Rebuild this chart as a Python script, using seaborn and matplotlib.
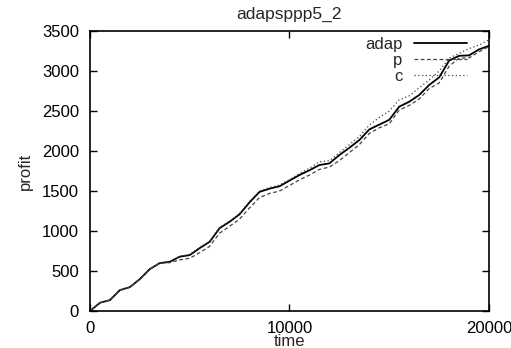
import numpy as np
import pandas as pd
import matplotlib
matplotlib.use("Agg")
import matplotlib.pyplot as plt
import seaborn as sns

time = [0, 500, 1000, 1500, 2000, 2500, 3000, 3500, 4000, 4500, 5000, 5500, 6000,
        6500, 7000, 7500, 8000, 8500, 9000, 9500, 10000, 10500, 11000, 11500, 12000,
        12500, 13000, 13500, 14000, 14500, 15000, 15500, 16000, 16500, 17000, 17500,
        18000, 18500, 19000, 19500, 20000]
adap = [0, 104, 137, 262, 300, 400, 525, 600, 616, 680, 700, 787, 866, 1037, 1116,
        1210, 1360, 1490, 1530, 1560, 1630, 1700, 1760, 1825, 1846, 1950, 2040, 2137,
        2270, 2330, 2390, 2554, 2616, 2700, 2825, 2920, 3130, 3190, 3195, 3270, 3315]
p = [0, 104, 137, 260, 298, 398, 522, 598, 605, 640, 660, 730, 810, 975, 1060,
     1150, 1290, 1420, 1470, 1500, 1570, 1640, 1700, 1770, 1800, 1880, 1980, 2080,
     2220, 2290, 2340, 2512, 2570, 2650, 2780, 2850, 3060, 3160, 3165, 3240, 3305]
c = [0, 104, 137, 262, 300, 400, 525, 600, 616, 685, 705, 795, 875, 1045, 1125,
     1220, 1370, 1500, 1545, 1575, 1645, 1720, 1785, 1866, 1880, 1980, 2080, 2180,
     2325, 2420, 2500, 2640, 2690, 2790, 2887, 3000, 3160, 3221, 3280, 3325, 3390]
series_names = ["adap", "p", "c"]

df = pd.concat([
    pd.DataFrame({"time": time, "profit": adap, "series": "adap"}),
    pd.DataFrame({"time": time, "profit": p, "series": "p"}),
    pd.DataFrame({"time": time, "profit": c, "series": "c"}),
])

sns.set_style("ticks")
plt.rcParams["font.family"] = ["Liberation Sans", "DejaVu Sans"]

fig = plt.figure(figsize=(5.11, 3.48), dpi=100)
ax = fig.add_axes([0.176, 0.106, 0.781, 0.805])

sns.lineplot(data=df, x="time", y="profit", hue="series", style="series",
             hue_order=series_names, style_order=series_names,
             palette={"adap": "black", "p": "#444444", "c": "#444444"},
             dashes={"adap": "", "p": (3, 2), "c": (1, 2)},
             size="series", sizes={"adap": 1.3, "p": 0.9, "c": 0.9},
             ax=ax, legend=True)

ax.set_xlim(0, 20000)
ax.set_ylim(0, 3500)
ax.set_xticks([0, 10000, 20000])
ax.set_yticks(np.arange(0, 3501, 500))
ax.tick_params(direction="in", length=5, width=1, top=True, right=True,
               labelsize=12, colors="black")
ax.tick_params(axis="x", pad=7)
ax.tick_params(axis="y", pad=8)
for s in ax.spines.values():
    s.set_visible(True)
    s.set_linewidth(1.2)
    s.set_color("black")
ax.set_xlabel("time", fontsize=12)
ax.xaxis.set_label_coords(0.5, -0.083)
ax.set_ylabel("profit", fontsize=12, labelpad=6)
ax.set_title("adapsppp5_2", fontsize=12.5, pad=9)

handles, labels = ax.get_legend_handles_labels()
leg = ax.legend(handles=handles[:3], labels=labels[:3], loc="upper right",
                frameon=False, markerfirst=False, handlelength=3.2,
                handletextpad=0.7, labelspacing=0.05, fontsize=12,
                borderaxespad=0.3, bbox_to_anchor=(0.975, 1.02))
try:
    for vp in leg._legend_box._children[-1]._children:
        vp.align = "right"
except Exception:
    pass

fig.savefig("out.png", dpi=100)
